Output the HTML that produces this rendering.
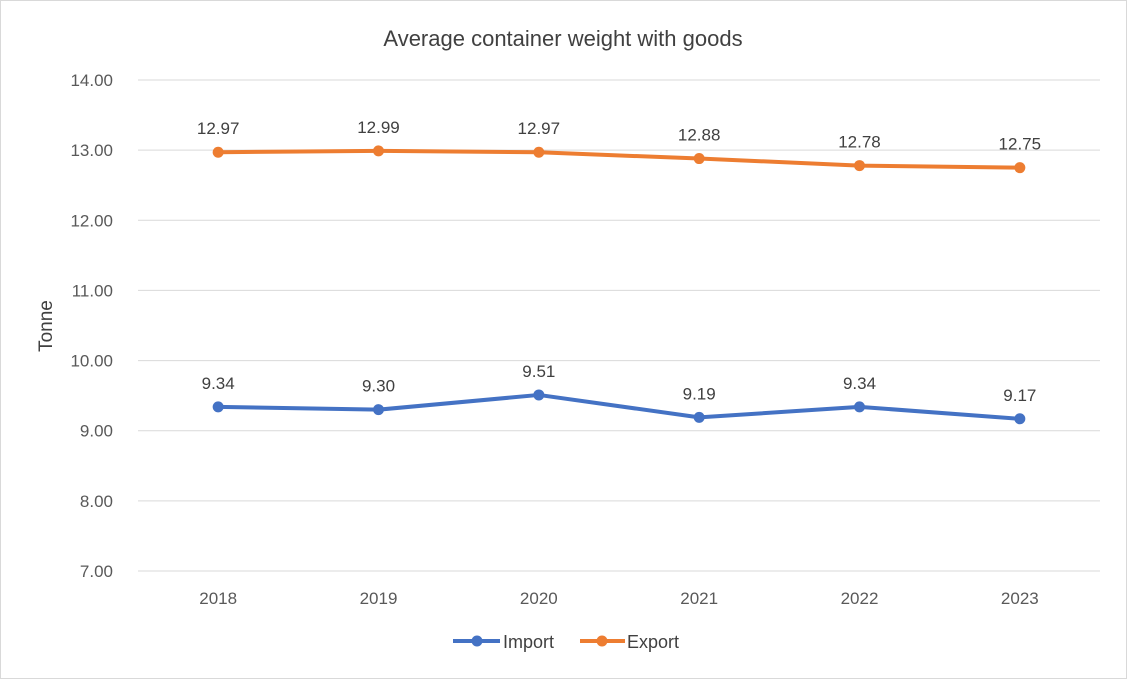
<!DOCTYPE html>
<html><head><meta charset="utf-8"><style>
body{margin:0;background:#fff;}
svg{display:block;font-family:"Liberation Sans",sans-serif;}
</style></head><body>
<svg id="chart" width="1127" height="679">
<rect x="0.5" y="0.5" width="1126" height="678" fill="#fff" stroke="#d9d9d9"/>
<text x="563" y="46" text-anchor="middle" font-size="22" fill="#404040">Average container weight with goods</text>
<text transform="translate(52,326) rotate(-90)" text-anchor="middle" font-size="19" fill="#404040">Tonne</text>
<g id="grid"></g><g id="series"></g>
<g>
<g>
<line x1="453" y1="641" x2="500" y2="641" stroke="#4472C4" stroke-width="4"/>
<circle cx="477" cy="641" r="5.5" fill="#4472C4"/>
<text x="503" y="648" font-size="18" fill="#404040">Import</text></g>
<g>
<line x1="580" y1="641" x2="625" y2="641" stroke="#ED7D31" stroke-width="4"/>
<circle cx="602" cy="641" r="5.5" fill="#ED7D31"/>
<text x="627" y="648" font-size="18" fill="#404040">Export</text></g>
</g>
</svg>
<script>
const categories=["2018","2019","2020","2021","2022","2023"];
const importValues=[9.34,9.30,9.51,9.19,9.34,9.17];
const exportValues=[12.97,12.99,12.97,12.88,12.78,12.75];
const yTicks=[7,8,9,10,11,12,13,14];
const NS="http://www.w3.org/2000/svg";
const plotLeft=138,plotRight=1100,plotTop=80,plotBottom=571,yMin=7,yMax=14;
const xPos=i=>plotLeft+(plotRight-plotLeft)/categories.length*(i+0.5);
const yPos=v=>plotBottom-(v-yMin)/(yMax-yMin)*(plotBottom-plotTop);
function mk(tag,attrs,parent,txt){const e=document.createElementNS(NS,tag);for(const k in attrs)e.setAttribute(k,attrs[k]);if(txt!=null)e.textContent=txt;parent.appendChild(e);return e;}
const grid=document.getElementById('grid');
yTicks.forEach(t=>{
  const l=mk('line',{x1:plotLeft,x2:plotRight,y1:yPos(t),y2:yPos(t),stroke:'#d9d9d9','stroke-width':1},grid);
  
  
  const tx=mk('text',{x:113,y:yPos(t)+6,'text-anchor':'end','font-size':17,fill:'#595959'},grid,t.toFixed(2));
  
  
});
categories.forEach((c,i)=>{
  const tx=mk('text',{x:xPos(i),y:604,'text-anchor':'middle','font-size':17,fill:'#595959'},grid,c);
  
  
});
const sg=document.getElementById('series');
function draw(vals,color,name){
  const p=mk('polyline',{points:vals.map((v,i)=>xPos(i)+','+yPos(v)).join(' '),fill:'none',stroke:color,'stroke-width':4,'stroke-linejoin':'round'},sg);
  
  
  vals.forEach((v,i)=>{
    const c=mk('circle',{cx:xPos(i),cy:yPos(v),r:5.5,fill:color},sg);
    
    
    const t=mk('text',{x:xPos(i),y:yPos(v)-18,'text-anchor':'middle','font-size':17,fill:'#404040'},sg,v.toFixed(2));
    
    
  });
}
draw(importValues,'#4472C4','import');
draw(exportValues,'#ED7D31','export');
</script>
</body></html>
